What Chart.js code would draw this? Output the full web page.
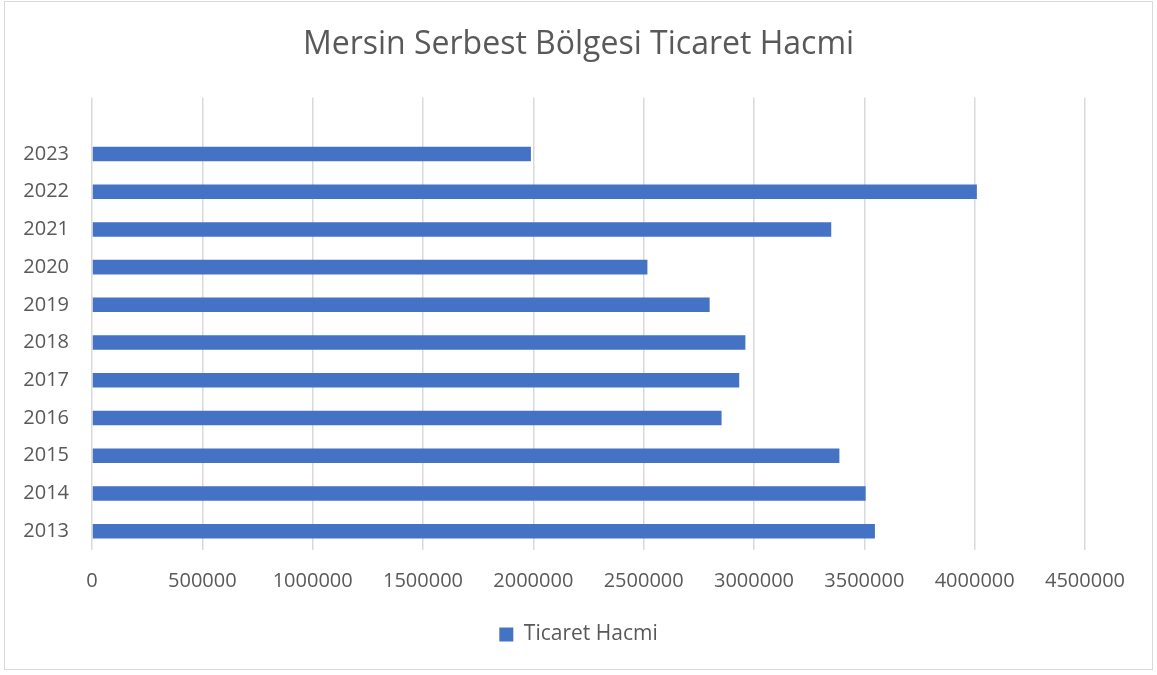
<!DOCTYPE html>
<html>
<head>
<meta charset="utf-8">
<script src="https://cdn.jsdelivr.net/npm/chart.js@4.4.1/dist/chart.umd.min.js"></script>
<style>
  html, body { margin: 0; padding: 0; background: #ffffff; }
  #wrap { position: relative; width: 1157px; height: 675px; }
</style>
</head>
<body>
<div id="wrap"><canvas id="tradeChart"></canvas></div>
<script>
// years from bottom to top; the last slot is an empty row Excel leaves at the top
var Years = ['2013', '2014', '2015', '2016', '2017', '2018', '2019', '2020', '2021', '2022', '2023', ''];
var TradeVolume = [3548000, 3506000, 3387000, 2853000, 2933000, 2961000, 2799000, 2517000, 3350000, 4010000, 1989000, null];
var SeriesName = 'Ticaret Hacmi';
var ChartTitle = 'Mersin Serbest Bölgesi Ticaret Hacmi';

Chart.defaults.font.family = "'Open Sans', sans-serif";
Chart.defaults.color = '#595959';

var FrameBorder = {
    id: 'FrameBorder',
    beforeDraw: chart => {
        var ctx = chart.ctx;
        ctx.save();
        ctx.fillStyle = '#ffffff';
        ctx.fillRect(0, 0, chart.width, chart.height);
        ctx.strokeStyle = '#d9d9d9';
        ctx.lineWidth = 1;
        ctx.strokeRect(4.5, 1.5, 1148, 668);
        ctx.restore();
    }
};

var config_Trade = {
    type: 'bar',
    data: {
        labels: Years,
        datasets: [{
            label: SeriesName,
            data: TradeVolume,
            backgroundColor: '#4472c4',
            borderWidth: 0,
            barPercentage: 0.385,
            categoryPercentage: 1
        }]
    },
    plugins: [FrameBorder],
    options: {
        indexAxis: 'y',
        responsive: false,
        animation: false,
        layout: {
            padding: { left: 0, right: 0, top: 0, bottom: 20 }
        },
        plugins: {
            title: {
                display: true,
                text: ChartTitle,
                color: '#595959',
                font: { size: 32, weight: 'normal' },
                padding: { top: 26, bottom: 33 }
            },
            legend: {
                position: 'bottom',
                labels: {
                    color: '#595959',
                    font: { size: 21 },
                    boxWidth: 14,
                    boxHeight: 14,
                    padding: 10
                }
            },
            tooltip: { enabled: false }
        },
        scales: {
            x: {
                min: 0,
                max: 4500000,
                ticks: {
                    stepSize: 500000,
                    padding: 19,
                    font: { size: 20 },
                    color: '#595959',
                    callback: function (value) { return String(value); }
                },
                grid: {
                    color: '#d9d9d9',
                    lineWidth: 1.5,
                    drawTicks: false
                },
                border: { display: false },
                afterFit: function (scale) { scale.height = 64; }
            },
            y: {
                reverse: true,
                ticks: {
                    padding: 23,
                    font: { size: 20 },
                    color: '#595959'
                },
                grid: { display: false, drawTicks: false },
                border: { display: false },
                afterFit: function (scale) { scale.width = 92; }
            },
            // empty right-hand axis, only keeps the plot off the right edge
            // so title and legend stay centred on the whole canvas
            yRight: {
                type: 'category',
                position: 'right',
                ticks: { display: false },
                grid: { display: false, drawTicks: false },
                border: { display: false },
                afterFit: function (scale) { scale.width = 72; }
            }
        }
    }
};

var canvas = document.getElementById('tradeChart');
canvas.width = 1157;
canvas.height = 675;
var TradeChart = new Chart(canvas.getContext('2d'), config_Trade);
</script>
</body>
</html>
